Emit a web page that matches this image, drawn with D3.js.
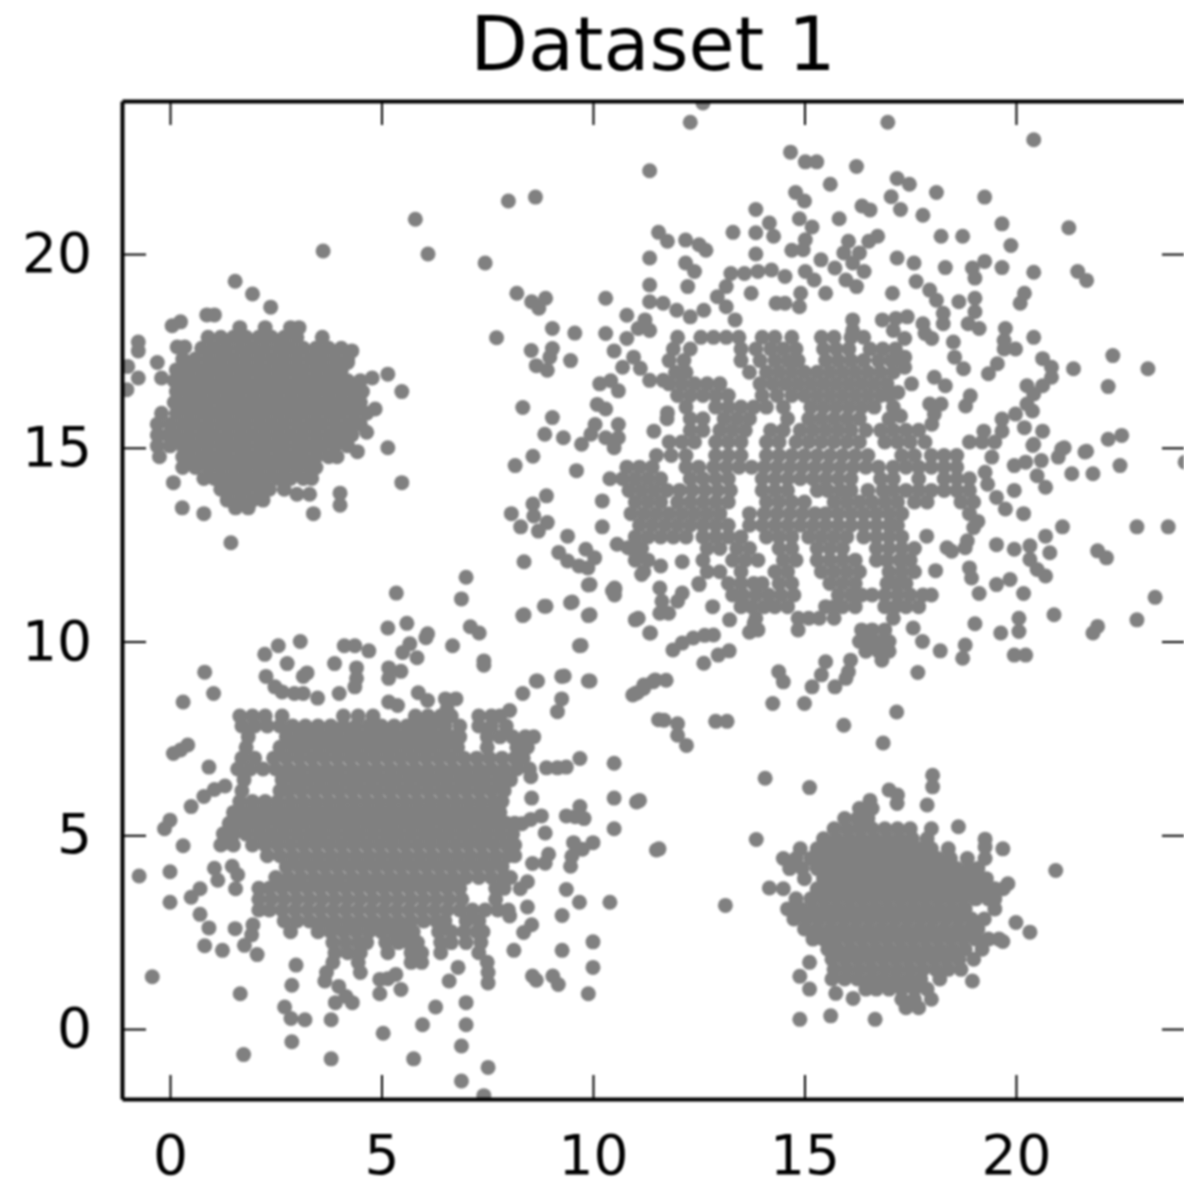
<!DOCTYPE html>
<html>
<head>
<meta charset="utf-8">
<script src="https://cdn.jsdelivr.net/npm/d3@7"></script>
<style>
  body { margin: 0; background: white; }
  svg { display: block; font-family: "DejaVu Sans", sans-serif; }
</style>
</head>
<body>
<div id="chart"></div>
<script>
const chartTitle = "Dataset 1"
const xTicks = [0, 5, 10, 15, 20]
const yTicks = [0, 5, 10, 15, 20]
const xLimits = [-1.135, 24.02]
const yLimits = [-1.806, 23.95]

// the packed middle of each cloud can't be read dot by dot,
// so those parts are estimated row by row: [y, [x, x, ...]]
const rowsA = [
  [18.1, [1.65, 2.25, 2.85, 3.05]],
  [17.85, [0.9, 1.2, 1.5, 1.8, 2.1, 2.4, 2.7, 3.0, 3.6]],
  [17.57, [0.75, 1.05, 1.35, 1.65, 1.95, 2.25, 2.55, 2.85, 3.15, 3.45, 3.75, 4.05]],
  [17.29, [0.3, 0.6, 0.9, 1.2, 1.5, 1.8, 2.1, 2.4, 2.7, 3.0, 3.3, 3.6, 3.9, 4.2]],
  [17.01, [0.15, 0.45, 0.75, 1.05, 1.35, 1.65, 1.95, 2.25, 2.55, 2.85, 3.15, 3.45, 3.75, 4.05]],
  [16.73, [0.1, 0.3, 0.6, 0.9, 1.2, 1.5, 1.8, 2.1, 2.4, 2.7, 3.0, 3.3, 3.6, 3.9, 4.2, 4.5]],
  [16.45, [0.15, 0.45, 0.75, 1.05, 1.35, 1.65, 1.95, 2.25, 2.55, 2.85, 3.15, 3.45, 3.75, 4.05, 4.35, 4.55]],
  [16.17, [0.1, 0.3, 0.6, 0.9, 1.2, 1.5, 1.8, 2.1, 2.4, 2.7, 3.0, 3.3, 3.6, 3.9, 4.2, 4.5]],
  [15.89, [-0.2, 0.15, 0.45, 0.75, 1.05, 1.35, 1.65, 1.95, 2.25, 2.55, 2.85, 3.15, 3.45, 3.75, 4.05, 4.35, 4.65]],
  [15.61, [-0.3, 0, 0.3, 0.6, 0.9, 1.2, 1.5, 1.8, 2.1, 2.4, 2.7, 3.0, 3.3, 3.6, 3.9, 4.2, 4.5]],
  [15.33, [-0.3, -0.05, 0.15, 0.45, 0.75, 1.05, 1.35, 1.65, 1.95, 2.25, 2.55, 2.85, 3.15, 3.45, 3.75, 4.05, 4.3]],
  [15.05, [-0.3, 0, 0.3, 0.6, 0.9, 1.2, 1.5, 1.8, 2.1, 2.4, 2.7, 3.0, 3.3, 3.6, 3.9, 4.2]],
  [14.77, [-0.25, 0.3, 0.45, 0.75, 1.05, 1.35, 1.65, 1.95, 2.25, 2.55, 2.85, 3.15, 3.45, 3.75, 3.95]],
  [14.49, [0.3, 0.6, 0.9, 1.2, 1.5, 1.8, 2.1, 2.4, 2.7, 3.0, 3.3, 3.45]],
  [14.21, [0.8, 1.05, 1.35, 1.65, 1.95, 2.25, 2.55, 2.85, 3.15, 3.35]],
  [13.93, [1.2, 1.5, 1.8, 2.1, 2.35, 2.7]],
  [13.65, [1.35, 1.65, 1.95, 2.2]],
  [13.45, [1.55, 1.85]]
]
const scatterA = [
  [1.54, 19.3], [1.95, 18.97], [2.38, 18.63], [0.05, 18.15], [0.25, 18.25], [0.87, 18.43], [1.05, 18.43],
  [-0.75, 17.73], [-0.75, 17.5], [-1.0, 17.1], [-0.75, 16.8], [-1.02, 16.5], [-0.3, 17.2], [-0.2, 16.8],
  [0.17, 17.6], [0.35, 17.6], [5.15, 16.9], [5.48, 16.45], [4.78, 16.8], [4.85, 16.0], [4.65, 15.4],
  [4.43, 14.9], [5.15, 15.0], [5.48, 14.1], [4.02, 13.83], [4.02, 13.52], [3.39, 13.3], [0.29, 13.45],
  [0.8, 13.3], [1.44, 12.55], [0.08, 14.1], [3.0, 13.8], [3.3, 13.8], [3.62, 20.08], [5.8, 20.9],
  [6.1, 20.0], [7.45, 19.77], [7.72, 17.84], [4.2, 17.2], [4.3, 17.5]
]

const rowsB = [
  [8.08, [1.65, 1.95, 2.25, 2.65, 4.1, 4.45, 4.8, 5.8, 6.1, 6.4, 6.65, 7.3, 7.6, 7.8]],
  [7.82, [1.7, 2.0, 2.3, 2.6, 2.9, 3.2, 3.5, 3.8, 4.1, 4.4, 4.7, 5.0, 5.3, 5.6, 5.9, 6.2, 6.5, 6.85, 7.3, 7.6, 7.95]],
  [7.54, [1.85, 2.75, 3.05, 3.35, 3.65, 3.95, 4.25, 4.55, 4.85, 5.15, 5.45, 5.75, 6.05, 6.35, 6.65, 6.85, 7.5, 7.8, 8.1, 8.4, 8.6]],
  [7.27, [1.8, 2.6, 2.9, 3.2, 3.5, 3.8, 4.1, 4.4, 4.7, 5.0, 5.3, 5.6, 5.9, 6.2, 6.5, 6.8, 7.5, 8.2, 8.45]],
  [6.99, [1.7, 2.0, 2.45, 2.75, 3.05, 3.35, 3.65, 3.95, 4.25, 4.55, 4.85, 5.15, 5.45, 5.75, 6.05, 6.35, 6.65, 6.95, 7.25, 7.55, 7.85, 8.15, 8.35]],
  [6.71, [1.6, 1.9, 2.2, 2.5, 2.8, 3.1, 3.4, 3.7, 4.0, 4.3, 4.6, 4.9, 5.2, 5.5, 5.8, 6.1, 6.4, 6.7, 7.0, 7.3, 7.6, 7.9, 8.2, 8.5]],
  [6.43, [1.75, 2.65, 2.95, 3.25, 3.55, 3.85, 4.15, 4.45, 4.75, 5.05, 5.35, 5.65, 5.95, 6.25, 6.55, 6.85, 7.15, 7.45, 7.75, 8.05]],
  [6.15, [1.7, 2.6, 2.8, 3.1, 3.4, 3.7, 4.0, 4.3, 4.6, 4.9, 5.2, 5.5, 5.8, 6.1, 6.4, 6.7, 7.0, 7.3, 7.6, 7.9]],
  [5.87, [1.65, 1.95, 2.25, 2.55, 2.85, 3.15, 3.45, 3.75, 4.05, 4.35, 4.65, 4.95, 5.25, 5.55, 5.85, 6.15, 6.45, 6.75, 7.05, 7.35, 7.65, 7.85]],
  [5.59, [1.5, 1.8, 2.1, 2.4, 2.7, 3.0, 3.3, 3.6, 3.9, 4.2, 4.5, 4.8, 5.1, 5.4, 5.7, 6.0, 6.3, 6.6, 6.9, 7.2, 7.5, 7.8]],
  [5.31, [1.4, 1.65, 1.95, 2.25, 2.55, 2.85, 3.15, 3.45, 3.75, 4.05, 4.35, 4.65, 4.95, 5.25, 5.55, 5.85, 6.15, 6.45, 6.75, 7.05, 7.35, 7.65, 7.95, 8.15]],
  [5.03, [1.5, 1.8, 2.1, 2.4, 2.7, 3.0, 3.3, 3.6, 3.9, 4.2, 4.5, 4.8, 5.1, 5.4, 5.7, 6.0, 6.3, 6.6, 6.9, 7.2, 7.5, 7.8, 8.1]],
  [4.75, [1.2, 1.5, 1.95, 2.25, 2.55, 2.85, 3.15, 3.45, 3.75, 4.05, 4.35, 4.65, 4.95, 5.25, 5.55, 5.85, 6.15, 6.45, 6.75, 7.05, 7.35, 7.65, 7.95, 8.15]],
  [4.47, [2.3, 2.6, 2.9, 3.2, 3.5, 3.8, 4.1, 4.4, 4.7, 5.0, 5.3, 5.6, 5.9, 6.2, 6.5, 6.8, 7.1, 7.4, 7.7, 8.0, 8.15]],
  [4.19, [2.75, 3.05, 3.35, 3.65, 3.95, 4.25, 4.55, 4.85, 5.15, 5.45, 5.75, 6.05, 6.35, 6.65, 6.95, 7.25, 7.55, 7.85]],
  [3.91, [2.5, 2.8, 3.1, 3.4, 3.7, 4.0, 4.3, 4.6, 4.9, 5.2, 5.5, 5.8, 6.1, 6.4, 6.7, 7.0, 7.3, 7.6, 7.9, 8.05]],
  [3.63, [2.1, 2.35, 2.65, 2.95, 3.25, 3.55, 3.85, 4.15, 4.45, 4.75, 5.05, 5.35, 5.65, 5.95, 6.25, 6.55, 6.85, 7.7, 7.9]],
  [3.35, [2.1, 2.4, 2.7, 3.0, 3.3, 3.6, 3.9, 4.2, 4.5, 4.8, 5.1, 5.4, 5.7, 6.0, 6.3, 6.6, 6.9, 7.7]],
  [3.07, [2.1, 2.35, 2.65, 2.95, 3.25, 3.55, 3.85, 4.15, 4.45, 4.75, 5.05, 5.35, 5.65, 5.95, 6.25, 6.55, 6.85, 7.15, 7.45, 7.75, 8.0]],
  [2.79, [2.7, 3.0, 3.3, 3.6, 3.9, 4.2, 4.5, 4.8, 5.1, 5.4, 5.7, 6.0, 6.3, 6.5, 7.0, 7.3]],
  [2.51, [2.85, 3.5, 3.8, 4.1, 4.4, 4.7, 5.0, 5.3, 5.55, 5.75, 6.35, 6.65, 6.95, 7.25, 7.4]],
  [2.23, [3.85, 4.15, 4.45, 4.65, 5.1, 5.4, 5.65, 5.85, 6.4, 6.65, 7.0, 7.35]],
  [1.97, [3.9, 4.2, 4.5, 5.15, 5.7, 5.95, 6.4, 7.3]],
  [1.72, [3.85, 4.45, 5.7, 5.95, 7.5]],
  [1.46, [4.5, 3.7]]
]
const scatterB = [
  [7.0, 11.66], [5.35, 11.25], [6.89, 11.1], [5.15, 10.35], [5.6, 10.47], [6.09, 10.2], [5.67, 9.94],
  [5.5, 9.72], [5.84, 9.58], [6.05, 10.1], [7.1, 10.38], [7.31, 10.22], [6.68, 9.89], [7.42, 9.39], [7.42, 9.5],
  [8.34, 10.67], [8.85, 10.91], [9.47, 11.0], [9.89, 11.46], [9.89, 10.67], [10.46, 11.31], [10.52, 11.36],
  [11.0, 10.56], [11.34, 10.22], [9.68, 9.89], [9.26, 9.1], [9.89, 8.98], [8.66, 8.98], [8.34, 8.66],
  [9.26, 8.52], [9.16, 8.19], [8.03, 8.22], [11.0, 8.66], [11.2, 8.88], [11.47, 9.01], [11.55, 7.98],
  [3.08, 10.0], [2.56, 9.89], [2.24, 9.67], [2.77, 9.43], [3.24, 9.19], [3.15, 9.1], [2.27, 9.1], [2.48, 8.83],
  [2.65, 8.7], [2.94, 8.66], [3.15, 8.66], [3.49, 8.54], [4.0, 8.66], [3.89, 9.43], [4.12, 9.89], [4.37, 9.89],
  [4.7, 9.76], [4.41, 9.32], [4.41, 9.05], [4.37, 8.83], [5.17, 9.32], [5.46, 9.23], [5.17, 9.05], [5.87, 8.68],
  [6.09, 8.48], [5.17, 8.44], [5.38, 8.35], [6.51, 8.52], [6.76, 8.52], [6.55, 8.26], [0.82, 9.21], [1.03, 8.66],
  [0.31, 8.44], [0.42, 7.33], [0.25, 7.2], [0.08, 7.11], [0.92, 6.76], [1.3, 6.27], [1.05, 6.18], [0.8, 6.0],
  [0.5, 5.74], [0, 5.39], [-0.13, 5.17], [0.31, 4.73], [1.26, 5.04], [1.3, 4.81], [0, 4.06], [-0.73, 3.95],
  [1.05, 4.15], [1.13, 3.84], [1.47, 4.2], [1.6, 3.98], [1.55, 3.62], [0.71, 3.62], [0.5, 3.4], [0, 3.27],
  [0.71, 2.96], [0.92, 2.61], [1.54, 2.59], [1.96, 2.69], [1.93, 2.43], [1.76, 2.16], [2.06, 1.92], [0.82, 2.15],
  [1.24, 2.03], [2.98, 1.65], [2.88, 1.13], [-0.42, 1.35], [1.66, 0.91], [2.71, 0.57], [2.86, 0.27], [3.19, 0.24],
  [3.81, 0.24], [2.88, -0.33], [1.74, -0.66], [3.81, -0.77], [5.04, -0.11], [5.76, -0.77], [5.97, 0.11],
  [6.28, 0.57], [7.0, 0.68], [7.0, 0.11], [6.89, -0.44], [7.52, -0.99], [6.89, -1.34], [7.42, -1.72],
  [9.69, 6.98], [10.5, 6.86], [8.9, 6.74], [9.16, 6.74], [9.37, 6.76], [8.53, 6.51], [8.55, 5.96], [10.5, 5.96],
  [11.03, 5.86], [8.78, 5.5], [8.53, 5.41], [8.32, 5.3], [9.69, 5.74], [9.37, 5.5], [9.58, 5.48], [9.79, 5.43],
  [10.5, 5.17], [8.87, 5.06], [9.54, 4.81], [10.0, 4.81], [9.75, 4.64], [9.5, 4.46], [9.47, 4.2], [8.95, 4.51],
  [8.87, 4.28], [8.57, 4.27], [11.5, 4.62], [8.45, 3.8], [8.28, 3.62], [9.37, 3.6], [9.68, 3.27], [10.4, 3.27],
  [8.45, 3.15], [9.27, 2.93], [8.03, 2.92], [8.55, 2.69], [8.36, 2.49], [10.0, 2.25], [8.13, 2.03], [9.27, 2.03],
  [10.0, 1.59], [8.57, 1.37], [8.66, 1.26], [9.05, 1.37], [9.18, 1.15], [7.52, 1.46], [7.52, 1.19], [9.89, 0.91],
  [6.81, 1.59], [6.6, 1.24], [4.96, 1.28], [4.96, 0.91], [5.34, 1.41], [5.46, 1.02], [5.15, 1.3], [3.66, 1.24],
  [3.99, 1.1], [4.16, 0.84], [3.91, 0.68], [4.31, 0.68]
]

const rowsC = [
  [17.85, [12.0, 12.55, 12.85, 13.15, 13.45, 14.0, 14.3, 14.7, 15.4, 15.7, 16.1, 16.4]],
  [17.55, [11.9, 12.3, 13.5, 13.85, 14.2, 14.5, 14.8, 15.45, 15.75, 16.05, 16.55, 16.85, 17.15]],
  [17.25, [11.8, 12.15, 13.5, 13.95, 14.3, 14.6, 14.85, 15.5, 15.8, 16.1, 16.4, 16.75, 17.05, 17.3]],
  [16.95, [11.95, 12.2, 13.7, 14.1, 14.4, 14.7, 15.0, 15.3, 15.6, 15.9, 16.2, 16.5, 16.8, 17.1]],
  [16.65, [11.8, 12.1, 12.4, 12.7, 13.0, 13.95, 14.25, 14.55, 14.85, 15.15, 15.45, 15.75, 16.05, 16.35, 16.65, 16.95]],
  [16.35, [12.0, 12.3, 12.6, 12.9, 13.2, 14.0, 14.35, 14.7, 15.0, 15.3, 15.6, 15.9, 16.2, 16.5, 16.8, 17.0]],
  [16.05, [12.2, 12.9, 13.2, 13.5, 13.8, 14.1, 14.5, 15.15, 15.45, 15.75, 16.05, 16.35, 16.65, 17.1]],
  [15.75, [11.75, 12.3, 12.6, 13.1, 13.4, 13.7, 14.6, 15.1, 15.4, 15.7, 16.0, 16.3, 17.0]],
  [15.45, [12.3, 12.6, 13.0, 13.3, 13.6, 14.2, 14.5, 14.9, 15.2, 15.5, 15.8, 16.1, 16.45, 16.8, 17.1, 17.4, 17.7]],
  [15.15, [11.8, 12.1, 12.4, 12.9, 13.2, 13.5, 14.1, 14.4, 14.8, 15.1, 15.4, 15.7, 16.0, 16.3, 16.9, 17.2, 17.5, 17.85, 18.9, 19.2, 19.5]],
  [14.8, [11.5, 11.85, 12.2, 12.9, 13.2, 13.5, 14.1, 14.4, 14.7, 15.0, 15.3, 15.6, 15.9, 16.2, 16.5, 17.3, 17.6, 18.0, 18.3, 18.6]],
  [14.5, [10.8, 11.1, 11.4, 12.2, 12.5, 12.85, 13.15, 13.45, 13.75, 14.05, 14.35, 14.65, 14.95, 15.25, 15.55, 15.85, 16.15, 16.45, 16.75, 17.1, 17.4, 17.7, 18.0, 18.3, 18.6]],
  [14.2, [10.4, 10.7, 11.0, 11.3, 11.6, 12.3, 12.6, 12.9, 13.2, 14.0, 14.3, 14.6, 14.9, 15.2, 15.5, 15.8, 16.1, 16.8, 17.1, 17.7, 18.3, 18.6, 18.9]],
  [13.9, [10.85, 11.15, 11.45, 11.75, 12.05, 12.35, 12.65, 12.95, 13.25, 14.0, 14.3, 14.6, 15.3, 15.55, 15.85, 16.1, 16.5, 16.85, 17.1, 17.4, 17.7, 18.0, 18.3, 18.6, 18.9]],
  [13.6, [11.0, 11.3, 11.6, 12.0, 12.3, 12.6, 12.9, 13.2, 14.1, 14.4, 14.7, 15.0, 15.7, 16.0, 16.3, 16.6, 16.9, 17.2, 17.6, 17.9, 18.7, 19.0]],
  [13.3, [10.9, 11.2, 11.5, 11.8, 12.1, 12.4, 12.7, 13.0, 13.7, 14.05, 14.35, 14.65, 14.95, 15.25, 15.5, 15.8, 16.1, 16.4, 16.7, 17.0, 17.3, 18.9]],
  [13.0, [11.1, 11.4, 11.7, 12.0, 12.3, 12.6, 12.9, 13.2, 13.7, 14.0, 14.3, 14.6, 14.9, 15.2, 15.5, 15.8, 16.1, 16.4, 16.7, 17.0, 17.2]],
  [12.7, [11.0, 11.3, 11.6, 11.9, 12.2, 12.6, 12.9, 13.2, 13.5, 14.1, 14.4, 14.7, 15.1, 15.4, 15.7, 16.0, 16.4, 16.7, 17.0, 17.3]],
  [12.4, [10.9, 11.15, 12.7, 13.0, 13.4, 13.7, 14.4, 14.7, 15.3, 15.6, 15.9, 16.7, 17.0, 17.3, 17.6]],
  [12.1, [11.0, 11.3, 12.6, 13.3, 13.6, 13.9, 14.5, 14.8, 15.3, 15.6, 15.9, 16.2, 16.7, 16.95, 17.25, 17.5]],
  [11.8, [11.2, 12.7, 13.0, 13.5, 14.3, 14.6, 15.4, 15.7, 16.0, 16.3, 17.0, 17.3, 17.6]],
  [11.5, [12.5, 13.2, 13.5, 13.8, 14.0, 14.4, 14.7, 15.6, 15.9, 16.2, 16.95, 17.15, 17.4]],
  [11.2, [13.3, 13.55, 13.85, 14.15, 14.45, 14.75, 15.8, 16.1, 16.35, 16.6, 16.9, 17.2, 17.5, 17.8, 18.0]],
  [10.9, [13.5, 13.75, 14.05, 14.3, 14.6, 15.5, 15.7, 15.9, 16.2, 16.9, 17.15, 17.4, 17.7]],
  [10.6, [13.85, 14.85, 15.1, 15.35, 15.7, 17.1]],
  [10.3, [13.9, 14.85, 16.35, 16.6, 16.9]],
  [10.0, [16.3, 16.55, 16.8, 17.0]],
  [9.75, [16.45, 16.75, 17.0]]
]
const scatterC = [
  [12.6, 23.9], [12.3, 23.4], [16.97, 23.4], [20.42, 22.95], [14.67, 22.63], [15.02, 22.38], [15.29, 22.38],
  [16.23, 22.26], [11.34, 22.15], [15.61, 21.8], [17.19, 21.95], [17.48, 21.8], [8.0, 21.37], [8.64, 21.47],
  [14.79, 21.59], [15.0, 21.37], [17.05, 21.48], [17.27, 21.15], [18.12, 21.59], [19.26, 21.47], [16.36, 21.24],
  [16.55, 21.14], [17.8, 21.0], [13.85, 21.15], [15.82, 20.91], [14.88, 20.91], [15.18, 20.7], [14.17, 20.8],
  [13.85, 20.55], [14.27, 20.46], [13.31, 20.56], [11.55, 20.56], [11.76, 20.33], [12.19, 20.36], [12.51, 20.24],
  [12.67, 20.1], [19.67, 20.78], [21.25, 20.68], [18.23, 20.46], [18.74, 20.46], [19.88, 20.22], [16.73, 20.46],
  [16.52, 20.33], [16.04, 20.33], [15.93, 20.03], [15.02, 20.37], [14.97, 20.11], [14.7, 20.1], [13.85, 20.0],
  [11.34, 19.9], [17.19, 19.9], [17.59, 19.77], [18.33, 19.65], [18.97, 19.64], [19.26, 19.81], [19.03, 19.38],
  [19.67, 19.65], [20.42, 19.53], [21.46, 19.55], [21.67, 19.32], [15.39, 19.85], [15.72, 19.64], [16.3, 20.03],
  [16.14, 19.77], [16.41, 19.55], [15.98, 19.33], [16.23, 19.16], [15.02, 19.55], [15.23, 19.33], [15.5, 18.99],
  [12.19, 19.77], [12.4, 19.55], [12.24, 19.16], [11.34, 19.2], [8.2, 18.99], [8.55, 18.77], [8.88, 18.86],
  [8.72, 18.6], [10.3, 18.86], [13.26, 19.5], [13.58, 19.5], [13.9, 19.55], [14.22, 19.59], [14.54, 19.42],
  [13.15, 19.16], [13.74, 18.99], [17.64, 19.29], [17.96, 19.07], [18.12, 18.81], [18.28, 18.47], [17.08, 18.99],
  [20.2, 18.99], [20.1, 18.73], [14.91, 18.99], [14.88, 18.64], [14.33, 18.73], [14.54, 18.73], [18.65, 18.77],
  [19.03, 18.86], [19.03, 18.51], [11.34, 18.77], [11.66, 18.73], [11.98, 18.55], [12.3, 18.38], [12.62, 18.55],
  [12.94, 18.9], [13.15, 18.64], [13.36, 18.3], [10.8, 18.42], [11.23, 18.3], [11.07, 18.08], [11.34, 18.03],
  [9.04, 18.08], [9.57, 17.96], [10.3, 17.95], [16.14, 18.3], [16.14, 18.03], [16.84, 18.3], [17.16, 18.34],
  [17.43, 18.38], [17.1, 18.03], [17.37, 17.82], [17.8, 18.2], [17.85, 17.95], [18.01, 17.82], [18.28, 18.2],
  [18.87, 18.2], [19.13, 18.08], [19.75, 18.08], [19.72, 17.77], [19.72, 17.55], [19.99, 17.55], [20.42, 17.85],
  [18.52, 17.73], [22.29, 17.38], [23.12, 17.04], [21.36, 17.04], [22.18, 16.58], [20.63, 17.3], [20.84, 17.08],
  [20.84, 16.82], [20.63, 16.6], [20.26, 16.6], [20.42, 16.39], [20.26, 16.13], [19.99, 15.87], [19.67, 15.74],
  [19.67, 15.43], [20.2, 15.52], [20.39, 15.95], [19.56, 17.17], [19.35, 16.91], [18.55, 17.34], [18.76, 17.04],
  [18.07, 16.82], [18.33, 16.6], [18.92, 16.34], [18.81, 16.08], [17.96, 16.13], [18.23, 16.13], [18.07, 15.87],
  [18.01, 15.61], [20.63, 15.43], [19.24, 15.43], [20.42, 15.09], [22.18, 15.22], [22.5, 15.32], [21.14, 15.0],
  [21.67, 14.91], [8.34, 16.04], [9.04, 15.78], [8.86, 15.35], [9.3, 15.26], [8.54, 17.51], [9.04, 17.56],
  [9.47, 17.25], [8.66, 17.12], [8.92, 17.0], [8.98, 17.34], [10.16, 16.65], [10.6, 16.47], [10.42, 16.73],
  [10.1, 16.12], [10.3, 16.0], [10.05, 15.6], [10.6, 15.6], [9.95, 15.35], [10.3, 15.26], [10.6, 15.26],
  [9.73, 15.09], [10.5, 15.0], [11.44, 15.43], [11.76, 15.9], [10.96, 17.34], [10.7, 17.08], [10.5, 17.5],
  [11.12, 17.05], [11.34, 16.74], [11.66, 16.74], [10.8, 17.82], [17.37, 17.34], [17.37, 17.08], [17.53, 16.65],
  [17.21, 16.43], [17.27, 15.82], [8.58, 14.78], [8.16, 14.54], [9.61, 14.41], [8.9, 13.76], [8.58, 13.55],
  [8.6, 13.24], [8.07, 13.3], [8.29, 12.96], [8.71, 12.85], [8.92, 13.07], [10.22, 13.63], [10.22, 12.96],
  [9.4, 12.72], [8.37, 12.06], [9.19, 12.3], [9.4, 12.08], [9.67, 11.95], [9.88, 11.9], [9.83, 12.38],
  [10.04, 12.16], [9.93, 11.47], [10.51, 11.38], [10.51, 11.2], [9.51, 11.02], [8.89, 10.91], [8.37, 10.69],
  [9.93, 10.69], [11.07, 10.6], [11.36, 10.22], [9.72, 9.9], [8.69, 8.98], [9.32, 9.11], [9.93, 8.98],
  [11.89, 9.78], [12.11, 9.96], [12.37, 10.09], [12.64, 10.16], [12.85, 10.17], [13.22, 9.76], [12.96, 9.65],
  [12.62, 9.44], [13.7, 10.24], [13.81, 10.48], [13.23, 10.56], [12.83, 10.9], [12.51, 11.47], [11.6, 11.95],
  [12.11, 12.06], [11.58, 11.38], [11.63, 11.04], [11.79, 10.73], [12.11, 11.25], [12.0, 11.04], [11.58, 10.73],
  [11.05, 12.16], [11.15, 11.73], [10.83, 12.42], [10.57, 12.51], [17.57, 10.35], [17.79, 10.0], [18.21, 9.76],
  [18.8, 9.91], [18.74, 9.57], [19.03, 10.46], [19.64, 10.22], [20.07, 10.6], [20.07, 10.26], [19.96, 9.65],
  [20.23, 9.65], [20.9, 10.69], [21.93, 10.39], [21.82, 10.22], [22.86, 10.56], [23.29, 11.14], [17.68, 9.2],
  [16.83, 9.52], [16.09, 9.52], [16.04, 9.22], [15.5, 9.48], [15.4, 9.14], [15.18, 8.83], [15.72, 8.83],
  [15.98, 9.05], [14.39, 9.22], [14.5, 8.96], [14.25, 8.4], [15.0, 8.4], [17.18, 8.18], [15.93, 7.84],
  [16.86, 7.38], [11.68, 7.97], [12.0, 7.88], [12.0, 7.58], [12.21, 7.32], [12.9, 7.94], [13.17, 7.94],
  [10.94, 8.62], [11.2, 8.79], [11.42, 8.96], [11.73, 9.0], [11.05, 8.68], [19.0, 12.94], [19.1, 13.1],
  [18.85, 12.6], [18.8, 12.42], [18.48, 12.33], [18.37, 12.42], [17.89, 12.72], [19.54, 12.5], [18.9, 11.9],
  [18.95, 11.64], [18.1, 11.83], [19.13, 11.24], [19.54, 11.47], [19.86, 11.6], [20.18, 11.24], [19.96, 12.38],
  [20.33, 12.47], [20.7, 12.72], [21.1, 12.96], [20.8, 12.29], [20.33, 12.12], [20.5, 11.86], [20.7, 11.69],
  [21.93, 12.34], [22.14, 12.16], [22.86, 12.96], [23.6, 12.96], [19.96, 13.9], [20.18, 13.3], [19.75, 13.42],
  [19.54, 13.72], [19.33, 14.06], [19.27, 14.37], [19.43, 14.76], [20.5, 14.28], [20.7, 13.98], [19.96, 14.54],
  [20.23, 14.63], [20.6, 14.67], [21.08, 14.97], [21.0, 14.76], [21.63, 14.89], [21.32, 14.33], [21.82, 14.33],
  [22.46, 14.54], [20.4, 15.06], [24.0, 14.63]
]

const rowsD = [
  [5.69, [16.3, 16.6]],
  [5.43, [15.95, 16.25, 16.5]],
  [5.17, [15.7, 16.0, 16.3, 16.6, 16.9, 17.2, 17.5, 18.0]],
  [4.91, [15.45, 15.75, 16.05, 16.35, 16.65, 16.95, 17.25, 17.55, 17.9]],
  [4.65, [14.9, 15.3, 15.6, 15.9, 16.2, 16.5, 16.8, 17.1, 17.4, 17.7, 18.0, 18.4]],
  [4.4, [14.5, 14.8, 15.15, 15.45, 15.75, 16.05, 16.35, 16.65, 16.95, 17.25, 17.55, 17.85, 18.15, 18.45, 18.85, 19.27]],
  [4.14, [14.65, 14.95, 15.3, 15.6, 15.9, 16.2, 16.5, 16.8, 17.1, 17.4, 17.7, 18.0, 18.3, 18.6, 18.9, 19.1]],
  [3.88, [15.0, 15.45, 15.75, 16.05, 16.35, 16.65, 16.95, 17.25, 17.55, 17.85, 18.15, 18.45, 18.75, 19.05, 19.3]],
  [3.62, [14.5, 15.3, 15.6, 15.9, 16.2, 16.5, 16.8, 17.1, 17.4, 17.7, 18.0, 18.3, 18.6, 18.9, 19.2, 19.5, 19.7]],
  [3.36, [14.8, 15.15, 15.45, 15.75, 16.05, 16.35, 16.65, 16.95, 17.25, 17.55, 17.85, 18.15, 18.45, 18.75, 19.05, 19.35, 19.5]],
  [3.1, [14.6, 14.9, 15.2, 15.5, 15.8, 16.1, 16.4, 16.7, 17.0, 17.3, 17.6, 17.9, 18.2, 18.5, 18.8, 19.5]],
  [2.84, [14.75, 15.05, 15.35, 15.65, 15.95, 16.25, 16.55, 16.85, 17.15, 17.45, 17.75, 18.05, 18.35, 18.65, 18.95, 19.25]],
  [2.58, [15.0, 15.3, 15.6, 15.9, 16.2, 16.5, 16.8, 17.1, 17.4, 17.7, 18.0, 18.3, 18.6, 18.9, 19.1]],
  [2.32, [15.2, 15.45, 15.75, 16.05, 16.35, 16.65, 16.95, 17.25, 17.55, 17.85, 18.15, 18.45, 18.75, 19.05, 19.35, 19.6]],
  [2.06, [15.55, 15.8, 16.1, 16.4, 16.7, 17.0, 17.3, 17.6, 17.9, 18.2, 18.5, 18.8, 19.2]],
  [1.8, [15.65, 15.95, 16.25, 16.55, 16.85, 17.15, 17.45, 17.75, 18.05, 18.35, 18.65, 19.0]],
  [1.54, [15.7, 16.0, 16.3, 16.6, 16.9, 17.2, 17.5, 17.8, 18.1, 18.4, 18.7]],
  [1.29, [15.65, 15.95, 16.25, 16.55, 16.85, 17.15, 17.45, 17.75, 18.2]],
  [1.03, [16.45, 16.7, 17.0, 17.3, 17.6, 17.9]],
  [0.77, [17.3, 17.6, 18.0]],
  [0.55, [17.4, 17.7]]
]
const scatterD = [
  [14.07, 6.47], [15.12, 6.23], [18.03, 6.55], [18.03, 6.25], [17.9, 5.78], [17.0, 6.17], [17.2, 6.04],
  [17.19, 5.82], [16.55, 5.9], [18.64, 5.22], [19.27, 4.7], [19.27, 4.9], [19.69, 4.65], [13.86, 4.89],
  [11.56, 4.65], [20.94, 4.09], [13.13, 3.19], [14.17, 3.64], [19.81, 3.75], [20.0, 2.75], [20.33, 2.5],
  [19.69, 2.26], [15.12, 1.72], [14.89, 1.36], [15.12, 1.03], [15.74, 0.92], [16.15, 0.79], [18.97, 1.24],
  [14.89, 0.25], [15.62, 0.34], [16.67, 0.25], [11.1, 5.9]
]

function drawScatter() {

    const width = 1184
    const height = 1182
    const left = 122
    const right = 1186
    const top = 101
    const bottom = 1099

    const x = d3.scaleLinear().domain(xLimits).range([left, right])
    const y = d3.scaleLinear().domain(yLimits).range([bottom, top])

    const svg = d3.select("#chart")
        .append("svg")
        .attr("width", width)
        .attr("height", height)
        .style("filter", "blur(0.9px)")

    svg.append("clipPath")
        .attr("id", "plot_area")
        .append("rect")
        .attr("x", left)
        .attr("y", top)
        .attr("width", right - left)
        .attr("height", bottom - top)

    // rows -> plain [x, y] pairs, then all clouds together
    const fromRows = rows => rows.flatMap(([yVal, xs]) => xs.map(xVal => [xVal, yVal]))
    const points = [
        ...fromRows(rowsA), ...scatterA,
        ...fromRows(rowsB), ...scatterB,
        ...fromRows(rowsC), ...scatterC,
        ...fromRows(rowsD), ...scatterD
    ]

    svg.append("g")
        .attr("clip-path", "url(#plot_area)")
        .selectAll("circle")
        .data(points)
        .join("circle")
        .attr("cx", d => x(d[0]))
        .attr("cy", d => y(d[1]))
        .attr("r", 7.5)
        .attr("fill", "#808080")

    // ticks point inward on all four sides, labels only bottom and left
    const tickLen = 24
    const axes = [
        [d3.axisBottom(x).tickValues(xTicks).tickSizeInner(-tickLen).tickSizeOuter(0).tickPadding(36), `translate(0, ${bottom})`],
        [d3.axisTop(x).tickValues(xTicks).tickSizeInner(-tickLen).tickSizeOuter(0).tickFormat(""), `translate(0, ${top})`],
        [d3.axisLeft(y).tickValues(yTicks).tickSizeInner(-tickLen).tickSizeOuter(0).tickPadding(30), `translate(${left}, 0)`],
        [d3.axisRight(y).tickValues(yTicks).tickSizeInner(-tickLen).tickSizeOuter(0).tickFormat(""), `translate(${right}, 0)`]
    ]

    axes.forEach(([axis, move]) => {
        const g = svg.append("g")
            .attr("transform", move)
            .call(axis)
        g.selectAll(".domain")
            .attr("stroke", "#000")
            .attr("stroke-width", 4)
        g.selectAll(".tick line")
            .attr("stroke", "#000")
            .attr("stroke-width", 2)
        g.selectAll("text")
            .attr("fill", "#000")
            .style("font-family", '"DejaVu Sans", sans-serif')
            .style("font-size", "55px")
    })

    svg.append("text")
        .attr("x", 653)
        .attr("y", 70)
        .attr("text-anchor", "middle")
        .style("font-size", "75px")
        .attr("fill", "#000")
        .text(chartTitle)
}

drawScatter()
</script>
</body>
</html>
